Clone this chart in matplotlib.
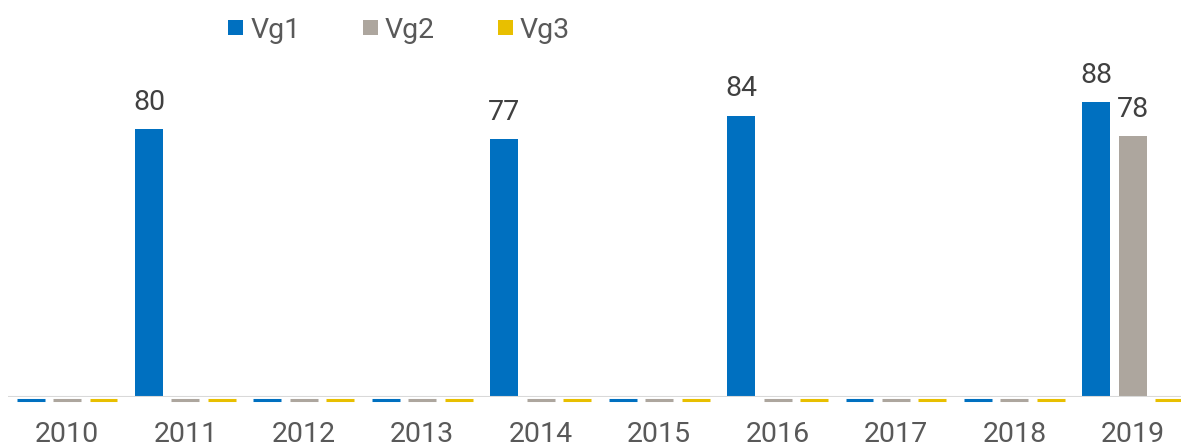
import matplotlib
matplotlib.use("Agg")
import matplotlib.pyplot as plt
import matplotlib.transforms as mtransforms
from matplotlib.patches import Patch
import numpy as np

plt.rcParams['font.family'] = ['Roboto', 'DejaVu Sans']

years = ["2010", "2011", "2012", "2013", "2014", "2015", "2016", "2017", "2018", "2019"]
series_names = ["Vg1", "Vg2", "Vg3"]
vg1 = [0, 80, 0, 0, 77, 0, 84, 0, 0, 88]
vg2 = [0, 0, 0, 0, 0, 0, 0, 0, 0, 78]
vg3 = [0, 0, 0, 0, 0, 0, 0, 0, 0, 0]
colors = ["#0070C0", "#ADA69E", "#E8BF00"]

W, H = 1181, 446
fig = plt.figure(figsize=(W / 100, H / 100), dpi=100)
left_px, right_px = 7.8, 1192.0
bottom_px, top_px = 397.0, 62.0
ax = fig.add_axes([left_px / W, (H - bottom_px) / H, (right_px - left_px) / W, (bottom_px - top_px) / H])
ax.set_xlim(-0.5, len(years) - 0.5)
ax.set_ylim(0, 100)

x = np.arange(len(years))
width = 0.236
step = 0.308
zero_tr = ax.transData + mtransforms.ScaledTranslation(0, -3 / 100, fig.dpi_scale_trans)
for i, (vals, c) in enumerate(zip([vg1, vg2, vg3], colors)):
    pos = x + (i - 1) * step
    for xp, v in zip(pos, vals):
        if v > 0:
            ax.bar(xp, v, width, color=c, zorder=2)
            ax.annotate(str(v), (xp, v), xytext=(0, 9.5), textcoords="offset points",
                        ha="center", va="bottom", fontsize=20.5, color="#404040")
        else:
            ax.plot([xp - width / 2, xp + width / 2], [v, v], color=c, lw=2.2,
                    transform=zero_tr, clip_on=False, solid_capstyle="butt", zorder=1)

ax.axhline(0, color="#D9D9D9", lw=1.5, zorder=3)
for s in ax.spines.values():
    s.set_visible(False)
ax.set_yticks([])
ax.set_xticks(x)
ax.set_xticklabels(years, fontsize=20.5, color="#595959")
ax.tick_params(axis="x", length=0, pad=17.5)

handles = [Patch(facecolor=c, edgecolor="none") for c in colors]
leg = fig.legend(handles, series_names, loc="center left", bbox_to_anchor=(228 / W, 1 - 30 / H),
                 ncol=3, frameon=False, fontsize=20.5, handlelength=0.526, handleheight=0.432,
                 handletextpad=0.25, columnspacing=2.2, labelcolor="#595959", borderpad=0,
                 borderaxespad=0)

fig.savefig("out.png", dpi=100)
